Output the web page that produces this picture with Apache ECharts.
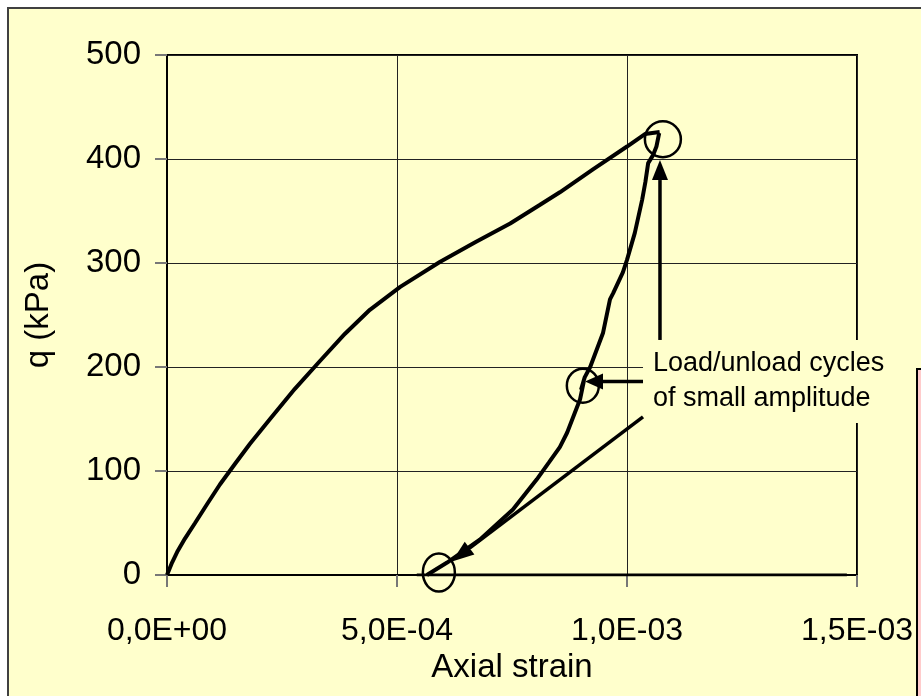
<!DOCTYPE html>
<html>
<head>
<meta charset="utf-8">
<script src="https://cdn.jsdelivr.net/npm/echarts@6/dist/echarts.min.js"></script>
<style>
html,body{margin:0;padding:0;background:#ffffff;}
#chart{width:921px;height:696px;}
</style>
</head>
<body>
<div id="chart"></div>
<script>
// ---- data ----
const xTicks = [0, 5e-4, 1e-3, 1.5e-3];
const yTicks = [0, 100, 200, 300, 400, 500];

const loadStrain = [0, 0.11e-4, 0.22e-4, 0.39e-4, 0.61e-4, 0.87e-4, 1.15e-4, 1.48e-4, 1.80e-4, 2.24e-4, 2.78e-4, 3.33e-4, 3.87e-4, 4.41e-4, 5.07e-4, 5.93e-4, 6.70e-4, 7.46e-4, 8.11e-4, 8.54e-4, 9.26e-4, 10.0e-4, 10.39e-4, 10.71e-4];
const loadQ      = [0, 12, 22, 35, 50, 68, 87, 107, 126, 150, 179, 206, 232, 255, 277, 301, 320, 338, 356, 368, 390, 412, 424, 426];

const unloadStrain = [1.070e-3, 1.064e-3, 1.057e-3, 1.046e-3, 1.040e-3, 1.033e-3, 1.017e-3, 1.000e-3, 0.991e-3, 0.970e-3, 0.963e-3, 0.948e-3, 0.920e-3, 0.908e-3, 0.900e-3, 0.906e-3, 0.898e-3, 0.870e-3, 0.854e-3, 0.830e-3, 0.804e-3, 0.752e-3, 0.680e-3, 0.609e-3, 0.565e-3];
const unloadQ      = [425, 412, 404, 396, 378, 361, 329, 303, 291, 271, 265, 233, 200, 190, 178, 186, 169, 137, 123, 108, 92, 63, 34, 12, 0];

const baseStrain = [0.543e-3, 1.478e-3];
const baseQ      = [0, 0];

// annotation anchors (data units)
const circlePeak  = [1.078e-3, 419];
const circleCycle = [0.904e-3, 182];
const circleZero  = [0.591e-3, 2.4];
const arrowUp     = {from: [1.0717e-3, 226], to: [1.0717e-3, 399]};
const arrowLeft   = {from: [1.0348e-3, 186], to: [0.9087e-3, 186]};
const arrowDiag   = {from: [1.0348e-3, 152], to: [0.6196e-3, 13]};
const noteAnchor  = [1.0348e-3, 226];
const noteText = 'Load/unload cycles\nof small amplitude';

function zip(a, b){ return a.map((v,i)=>[v, b[i]]); }
function fmtSci(v){
  const s = Number(v).toExponential(1);
  const parts = s.split('e');
  const m = parts[0].replace('.', ',');
  let e = parseInt(parts[1], 10);
  const sign = e < 0 ? '-' : '+';
  e = Math.abs(e);
  return m + 'E' + sign + (e < 10 ? '0' + e : '' + e);
}

const FONT = '"Liberation Sans", Arial, sans-serif';
const chart = echarts.init(document.getElementById('chart'), null, {renderer:'canvas'});

const option = {
  backgroundColor: '#ffffff',
  animation: false,
  grid: {left:167, top:55, width:690, height:520, show:true, borderColor:'#000', borderWidth:2, backgroundColor:'transparent'},
  xAxis: {
    type:'value', min:xTicks[0], max:xTicks[xTicks.length-1], interval:xTicks[1]-xTicks[0],
    name:'Axial strain', nameLocation:'middle', nameGap:60,
    nameTextStyle:{fontFamily:FONT, fontSize:33, color:'#000'},
    axisLine:{show:true, onZero:false, lineStyle:{color:'#000', width:2}},
    axisTick:{show:true, inside:false, length:12, lineStyle:{color:'#777', width:2}},
    axisLabel:{formatter:fmtSci, margin:40, fontFamily:FONT, fontSize:32, color:'#000', showMaxLabel:true, showMinLabel:true},
    splitLine:{show:true, lineStyle:{color:'#222', width:1}}
  },
  yAxis: {
    type:'value', min:yTicks[0], max:yTicks[yTicks.length-1], interval:yTicks[1]-yTicks[0],
    name:'q (kPa)', nameLocation:'middle', nameGap:112, nameRotate:90,
    nameTextStyle:{fontFamily:FONT, fontSize:33, color:'#000'},
    axisLine:{show:true, onZero:false, lineStyle:{color:'#000', width:2}},
    axisTick:{show:true, inside:false, length:12, lineStyle:{color:'#777', width:2}},
    axisLabel:{margin:26, fontFamily:FONT, fontSize:33, color:'#000'},
    splitLine:{show:true, lineStyle:{color:'#222', width:1}}
  },
  series: [
    {type:'line', data:zip(loadStrain, loadQ), showSymbol:false, symbol:'none', lineStyle:{color:'#000', width:4}, z:5},
    {type:'line', data:zip(unloadStrain, unloadQ), showSymbol:false, symbol:'none', lineStyle:{color:'#000', width:4}, z:5},
    {type:'line', data:zip(baseStrain, baseQ), showSymbol:false, symbol:'none', lineStyle:{color:'#000', width:3}, z:5}
  ]
};
chart.setOption(option);

function px(p){ return chart.convertToPixel({gridIndex:0}, p); }
function arrowEls(a, headLen, headW){
  const f = px(a.from), t = px(a.to);
  const dx = t[0]-f[0], dy = t[1]-f[1];
  const L = Math.sqrt(dx*dx+dy*dy);
  const ux = dx/L, uy = dy/L;
  const bx = t[0]-ux*headLen, by = t[1]-uy*headLen;
  const nx = -uy, ny = ux;
  return [
    {type:'line', shape:{x1:f[0], y1:f[1], x2:bx, y2:by}, style:{stroke:'#000', lineWidth:3.5}, z:20},
    {type:'polygon', shape:{points:[[t[0],t[1]],[bx+nx*headW/2, by+ny*headW/2],[bx-nx*headW/2, by-ny*headW/2]]}, style:{fill:'#000'}, z:20}
  ];
}

const cP = px(circlePeak), cC = px(circleCycle), cZ = px(circleZero), nA = px(noteAnchor);
const gEls = [
  {type:'rect', shape:{x:8, y:8, width:940, height:720}, style:{fill:'#FFFFCC', stroke:'#404040', lineWidth:2}, z:-100, silent:true},
  {type:'rect', shape:{x:917, y:369, width:40, height:400}, style:{fill:'#FFCCCC', stroke:'#000', lineWidth:2}, z:30},
  {type:'rect', shape:{x:nA[0], y:nA[1], width:262, height:83}, style:{fill:'#FFFFCC'}, z:15},
  {type:'text', x:nA[0]+10, y:nA[1]+6, style:{text:noteText, font:'27px ' + FONT, fill:'#000', lineHeight:35}, z:21},
  {type:'ellipse', shape:{cx:cP[0], cy:cP[1], rx:18, ry:18}, style:{fill:'none', stroke:'#000', lineWidth:2.5}, z:20},
  {type:'ellipse', shape:{cx:cC[0], cy:cC[1], rx:16, ry:17}, style:{fill:'none', stroke:'#000', lineWidth:2.5}, z:20},
  {type:'ellipse', shape:{cx:cZ[0], cy:cZ[1], rx:16, ry:19}, style:{fill:'none', stroke:'#000', lineWidth:2.5}, z:20}
].concat(arrowEls(arrowUp, 20, 16), arrowEls(arrowLeft, 18, 16), arrowEls(arrowDiag, 22, 16));

chart.setOption({graphic:{elements:gEls}});
</script>
</body>
</html>
